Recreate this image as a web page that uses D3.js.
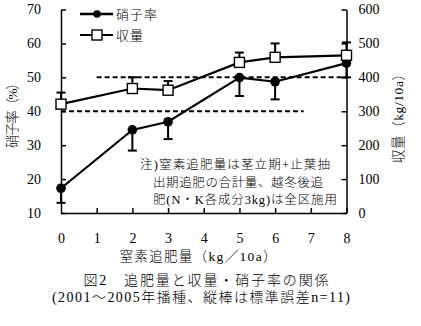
<!DOCTYPE html>
<html><head><meta charset="utf-8">
<script src="https://cdn.jsdelivr.net/npm/d3@7"></script>
<style>
body{margin:0;background:#fff;}
svg{display:block;}
text{fill:#000;}
</style></head>
<body>
<svg id="c" width="421" height="326"></svg>
<script>
const xs = [0, 2, 3, 5, 6, 8];
const glassRate = [17.3, 34.5, 36.9, 49.9, 48.7, 54.2];
const glassErr = [4.3, 6.1, 5.1, 5.4, 5.2, 4.2];
const yieldVals = [321, 367, 362, 444, 459, 465];
const yieldErr = [34, 33, 27, 29, 41, 38];
const xTicks = [0,1,2,3,4,5,6,7,8];
const leftTicks = [10,20,30,40,50,60,70];
const rightTicks = [0,100,200,300,400,500,600];
const refLines = [{x0:1, x1:8, v:50}, {x0:0, x1:6.8, v:40}];
const legendLabels = ["硝子率", "収量"];
const noteLines = ["注)窒素追肥量は茎立期+止葉抽", "出期追肥の合計量、越冬後追", "肥(N・K各成分3kg)は全区施用"];
const xTitle = "窒素追肥量（kg／10a）";
const leftTitle = "硝子率（%）";
const rightTitle = "収量（kg/10a）";
const caption = ["図2　追肥量と収量・硝子率の関係", "(2001～2005年播種、縦棒は標準誤差n=11)"];

const svg = d3.select("#c");
const SERIF = "'Liberation Serif','Noto Sans CJK JP',serif";
const JP = "'Liberation Serif','Noto Sans CJK JP',sans-serif";
const x = d3.scaleLinear().domain([0,8]).range([61,346.5]);
const yL = d3.scaleLinear().domain([10,70]).range([213,9.5]);
const yR = d3.scaleLinear().domain([0,600]).range([213,9.5]);

// axes
const axL = svg.append("g").attr("transform","translate(61,0)")
  .call(d3.axisLeft(yL).tickValues(leftTicks).tickSizeInner(-5).tickSizeOuter(0).tickPadding(20));
const axR = svg.append("g").attr("transform","translate(346.5,0)")
  .call(d3.axisRight(yR).tickValues(rightTicks).tickSizeInner(-5).tickSizeOuter(0).tickPadding(12));
const axB = svg.append("g").attr("transform","translate(0,213)")
  .call(d3.axisBottom(x).tickValues(xTicks).tickSizeInner(-5).tickSizeOuter(0).tickPadding(20));
[axL,axR,axB].forEach(a=>{
  a.select(".domain").attr("stroke","#000").attr("stroke-width",1.5);
  a.selectAll(".tick line").attr("stroke","#000").attr("stroke-width",1.5);
  a.selectAll(".tick text").attr("font-family",SERIF).attr("font-size",14).attr("fill","#000");
});
axB.selectAll(".tick").filter(d=>d===0).select("line").remove();

// reference dashed lines
svg.append("g").selectAll("line").data(refLines).join("line")
  .attr("x1",d=>x(d.x0)).attr("x2",d=>x(d.x1))
  .attr("y1",d=>yL(d.v)).attr("y2",d=>yL(d.v))
  .attr("stroke","#000").attr("stroke-width",2).attr("stroke-dasharray","5,3");

const gData = xs.map((v,i)=>({x:v, y:glassRate[i], e:glassErr[i]}));
const yData = xs.map((v,i)=>({x:v, y:yieldVals[i], e:yieldErr[i]}));

// error bars: glass downwards, yield upwards
const eb = svg.append("g").attr("stroke","#000").attr("stroke-width",2);
gData.forEach(d=>{
  eb.append("line").attr("x1",x(d.x)).attr("x2",x(d.x)).attr("y1",yL(d.y)).attr("y2",yL(d.y-d.e));
  eb.append("line").attr("x1",x(d.x)-4.5).attr("x2",x(d.x)+4.5).attr("y1",yL(d.y-d.e)).attr("y2",yL(d.y-d.e));
});
yData.forEach(d=>{
  eb.append("line").attr("x1",x(d.x)).attr("x2",x(d.x)).attr("y1",yR(d.y)).attr("y2",yR(d.y+d.e));
  eb.append("line").attr("x1",x(d.x)-4.5).attr("x2",x(d.x)+4.5).attr("y1",yR(d.y+d.e)).attr("y2",yR(d.y+d.e));
});

// lines
svg.append("path").datum(gData).attr("fill","none").attr("stroke","#000").attr("stroke-width",2.2)
  .attr("d",d3.line().x(d=>x(d.x)).y(d=>yL(d.y)));
svg.append("path").datum(yData).attr("fill","none").attr("stroke","#000").attr("stroke-width",2.2)
  .attr("d",d3.line().x(d=>x(d.x)).y(d=>yR(d.y)));

// markers
svg.append("g").selectAll("circle").data(gData).join("circle")
  .attr("cx",d=>x(d.x)).attr("cy",d=>yL(d.y)).attr("r",4.8).attr("fill","#000");
svg.append("g").selectAll("rect").data(yData).join("rect")
  .attr("x",d=>x(d.x)-5).attr("y",d=>yR(d.y)-5).attr("width",10).attr("height",10)
  .attr("fill","#fff").attr("stroke","#000").attr("stroke-width",1.4);

// legend
const lg = svg.append("g");
lg.append("line").attr("x1",80).attr("x2",113).attr("y1",14).attr("y2",14).attr("stroke","#000").attr("stroke-width",2.5);
lg.append("circle").attr("cx",97).attr("cy",14).attr("r",3.8).attr("fill","#000");
lg.append("line").attr("x1",80).attr("x2",113).attr("y1",35).attr("y2",35).attr("stroke","#000").attr("stroke-width",2.2);
lg.append("rect").attr("x",92).attr("y",30).attr("width",10).attr("height",10).attr("fill","#fff").attr("stroke","#000").attr("stroke-width",1.4);
lg.selectAll("text").data(legendLabels).join("text")
  .attr("x",116).attr("y",(d,i)=>19+i*21).attr("font-family",JP).attr("font-size",13).attr("font-weight",300)
  .attr("letter-spacing",1).text(d=>d);

// note
const nx = [140,153,153], nw = [190,170,184];
svg.append("g").selectAll("text").data(noteLines).join("text")
  .attr("x",(d,i)=>nx[i]).attr("y",(d,i)=>169+i*17.5)
  .attr("font-family",JP).attr("font-size",12.5).attr("font-weight",300)
  .attr("textLength",(d,i)=>nw[i]).attr("lengthAdjust","spacing").text(d=>d);

// axis titles
svg.append("text").attr("x",198).attr("y",261).attr("text-anchor","middle").attr("font-weight",300)
  .attr("font-family",JP).attr("font-size",13.5).attr("textLength",157).attr("lengthAdjust","spacing").text(xTitle);
svg.append("text").attr("transform","translate(17,112) rotate(-90)").attr("text-anchor","middle").attr("font-weight",300)
  .attr("font-family",JP).attr("font-size",13.5).attr("textLength",72).attr("lengthAdjust","spacing").text(leftTitle);
svg.append("text").attr("transform","translate(403,115) rotate(-90)").attr("text-anchor","middle").attr("font-weight",300)
  .attr("font-family",JP).attr("font-size",13.5).attr("textLength",96).attr("lengthAdjust","spacing").text(rightTitle);

// caption
svg.append("text").attr("x",206).attr("y",285).attr("text-anchor","middle").attr("font-weight",300)
  .attr("font-family",JP).attr("font-size",14).attr("textLength",245).attr("lengthAdjust","spacing").text(caption[0]);
svg.append("text").attr("x",201).attr("y",302).attr("text-anchor","middle").attr("font-weight",300)
  .attr("font-family",JP).attr("font-size",14).attr("textLength",298).attr("lengthAdjust","spacing").text(caption[1]);
</script>
</body></html>
